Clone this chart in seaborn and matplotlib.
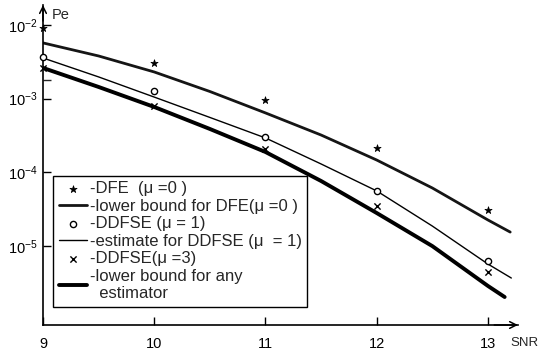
import matplotlib
matplotlib.use("Agg")
import matplotlib.pyplot as plt
import seaborn as sns

# ---- data ----
snr_pts = [9, 10, 11, 12, 13]
dfe_mu0 = [9.1e-3, 3.0e-3, 9.5e-4, 2.15e-4, 3.1e-5]
ddfse_mu1 = [3.7e-3, 1.26e-3, 3.0e-4, 5.6e-5, 6.2e-6]
ddfse_mu3 = [2.6e-3, 7.9e-4, 2.1e-4, 3.5e-5, 4.5e-6]

snr_lb_dfe = [9, 9.5, 10, 10.5, 11, 11.5, 12, 12.5, 13, 13.20]
lb_dfe = [5.70e-3, 3.79e-3, 2.30e-3, 1.25e-3, 6.40e-4, 3.21e-4, 1.47e-4, 6.14e-5, 2.26e-5, 1.55e-5]

snr_est = [9, 9.5, 10, 10.5, 11, 11.5, 12, 12.5, 13, 13.21]
est_ddfse = [3.56e-3, 1.97e-3, 1.05e-3, 5.56e-4, 2.93e-4, 1.30e-4, 5.60e-5, 1.87e-5, 5.71e-6, 3.69e-6]

snr_lb_any = [9, 9.5, 10, 10.5, 11, 11.5, 12, 12.5, 13, 13.15]
lb_any = [2.61e-3, 1.44e-3, 7.71e-4, 3.88e-4, 1.89e-4, 7.64e-5, 2.81e-5, 1.00e-5, 2.88e-6, 2.04e-6]

labels = [
    "-DFE  (\u03bc =0 )",
    "-lower bound for DFE(\u03bc =0 )",
    "-DDFSE (\u03bc = 1)",
    "-estimate for DDFSE (\u03bc  = 1)",
    "-DDFSE(\u03bc =3)",
    "-lower bound for any\n  estimator",
]
x_ticks = [9, 10, 11, 12, 13]
y_ticks = [1e-2, 1e-3, 1e-4, 1e-5]
y_tick_labels = ["10$^{-2}$", "10$^{-3}$", "10$^{-4}$", "10$^{-5}$"]

sns.set_theme(style="white")
plt.rcParams["font.family"] = ["Liberation Sans", "DejaVu Sans"]
plt.rcParams["mathtext.default"] = "regular"

fig = plt.figure(figsize=(5.41, 3.62), dpi=100)
ax = fig.add_axes([43 / 541, (362 - 325) / 362, (518 - 43) / 541, (325 - 5) / 362])

sns.scatterplot(x=snr_pts, y=dfe_mu0, marker="*", s=30, color="black",
                edgecolor="black", linewidth=0.5, ax=ax, label=labels[0], clip_on=False, zorder=5)
sns.lineplot(x=snr_lb_dfe, y=lb_dfe, color="#151515", lw=2.0, ax=ax, label=labels[1])
sns.scatterplot(x=snr_pts, y=ddfse_mu1, marker="o", s=20, facecolor="white",
                edgecolor="black", linewidth=1.0, ax=ax, label=labels[2], clip_on=False, zorder=5)
sns.lineplot(x=snr_est, y=est_ddfse, color="black", lw=1.0, ax=ax, label=labels[3])
sns.scatterplot(x=snr_pts, y=ddfse_mu3, marker="x", s=20, color="black",
                linewidth=1.0, ax=ax, label=labels[4], clip_on=False, zorder=5)
sns.lineplot(x=snr_lb_any, y=lb_any, color="black", lw=2.8, ax=ax, label=labels[5])

ax.set_yscale("log")
ax.set_xlim(9, 13.27)
ax.set_ylim(10 ** -6.07, 10 ** -1.73)

ax.set_xticks(x_ticks)
ax.set_xticklabels([str(t) for t in x_ticks])
ax.set_yticks(y_ticks)
ax.set_yticklabels(y_tick_labels)
ax.set_yticks([1.8e-3], minor=True)
ax.tick_params(axis="both", which="major", direction="in", length=6, width=1.0,
               labelsize=10.5, colors="black")
ax.tick_params(axis="x", pad=9)
ax.tick_params(axis="y", pad=4)
ax.tick_params(axis="y", which="minor", direction="in", length=6, width=1.0, left=True)
ax.tick_params(axis="x", which="minor", bottom=False)
ax.tick_params(bottom=True, left=True)

for s in ["top", "right"]:
    ax.spines[s].set_visible(False)
for s in ["left", "bottom"]:
    ax.spines[s].set_color("black")
    ax.spines[s].set_linewidth(1.2)

# axis arrows
ax.annotate("", xy=(0, 1.0), xytext=(0, 0.95), xycoords="axes fraction",
            arrowprops=dict(arrowstyle="->", lw=1.1, color="black", shrinkA=0, shrinkB=0,
                            mutation_scale=12))
ax.annotate("", xy=(1.0, 0), xytext=(0.95, 0), xycoords="axes fraction",
            arrowprops=dict(arrowstyle="->", lw=1.1, color="black", shrinkA=0, shrinkB=0,
                            mutation_scale=12))

fig.text(52 / 541, 1 - 15 / 362, "Pe", fontsize=10.5, ha="left", va="center")
fig.text(539 / 541, 1 - 343 / 362, "SNR", fontsize=9.5, ha="right", va="center")

h, l = ax.get_legend_handles_labels()
order = [l.index(lab) for lab in labels]
leg = ax.legend([h[i] for i in order], [l[i] for i in order],
                loc="lower left", bbox_to_anchor=(0.021, 0.056),
                frameon=True, fancybox=False, edgecolor="black", framealpha=1,
                fontsize=12, handlelength=1.7, handletextpad=0.15, labelspacing=0.15,
                borderpad=0.35, borderaxespad=0, markerscale=1.0)
leg.get_frame().set_linewidth(1.0)

fig.savefig("out.png", dpi=100)
